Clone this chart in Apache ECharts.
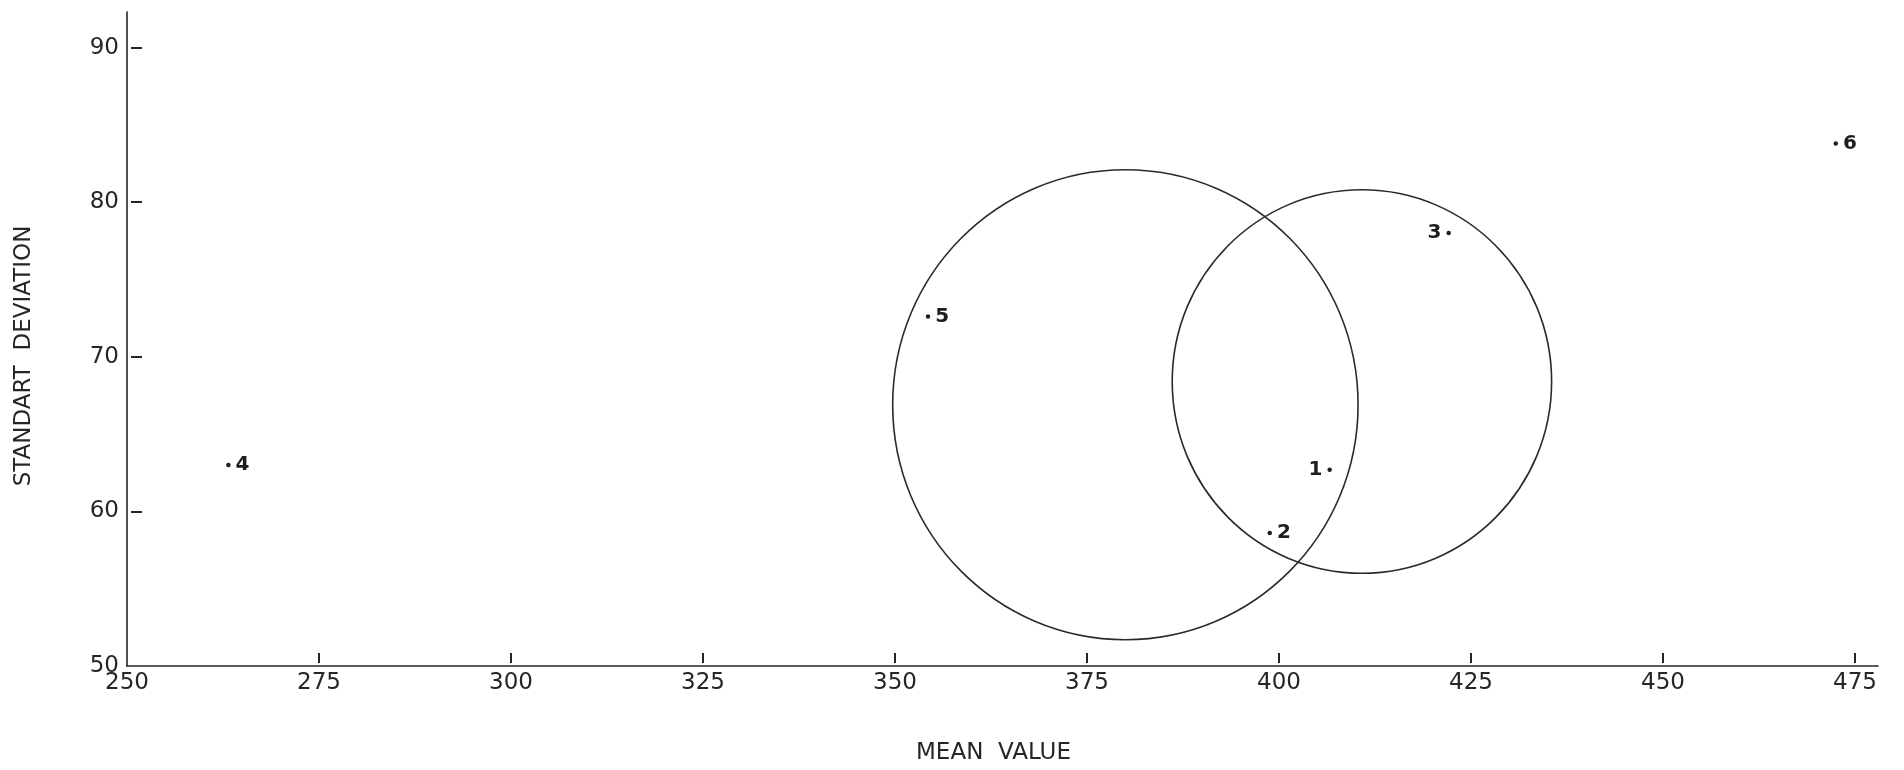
<!DOCTYPE html>
<html>
<head>
<meta charset="utf-8">
<title>Mean value vs standard deviation</title>
<script src="https://cdn.jsdelivr.net/npm/echarts@6/dist/echarts.min.js"></script>
<style>
  html, body { margin: 0; padding: 0; background: #ffffff; }
  #chart { width: 1904px; height: 770px; }
</style>
</head>
<body>
<div id="chart"></div>
<script>
// Numbered samples: mean value and standard deviation
const sampleIds   = ['1', '2', '3', '4', '5', '6'];
const sampleMeans = [406.6, 398.8, 422.1, 263.2, 354.3, 472.5];
const sampleSds   = [62.7, 58.6, 78.0, 63.0, 72.6, 83.8];

// Confidence regions: centre and half-widths in axis units
const regionMeans    = [380.0, 410.8];
const regionSds      = [66.9, 68.4];
const regionHalfMean = [30.3, 24.7];
const regionHalfSd   = [15.2, 12.4];

// Axis ticks
const xTickLabels = [250, 275, 300, 325, 350, 375, 400, 425, 450, 475];
const xTickMarks  = [275, 300, 325, 350, 375, 400, 425, 450, 475];
const yTickLabels = [50, 60, 70, 80, 90];
const yTickMarks  = [60, 70, 80, 90];

const ink = '#262626';
const font = 'DejaVu Sans';
const labelOnLeft = new Set(['1', '3']);

const points = sampleIds.map((id, i) => ({
  value: [sampleMeans[i], sampleSds[i]],
  name: id,
  label: { position: labelOnLeft.has(id) ? 'left' : 'right', distance: 5 }
}));

const regions = regionMeans.map((m, i) => [m, regionSds[i], regionHalfMean[i], regionHalfSd[i]]);

const X_MIN = 250, X_MAX = 478, Y_MIN = 50, Y_MAX = 92.3;

const chart = echarts.init(document.getElementById('chart'), null, { renderer: 'canvas' });

chart.setOption({
  animation: false,
  backgroundColor: '#ffffff',
  grid: { left: 127, right: 26, top: 12, bottom: 101, containLabel: false },
  xAxis: [
    {
      type: 'value', min: X_MIN, max: X_MAX, interval: 25,
      name: 'MEAN  VALUE', nameLocation: 'middle', nameGap: 76,
      nameTextStyle: { fontFamily: font, fontSize: 23, color: ink, padding: [0, 18, 0, 0] },
      axisLine: { show: true, lineStyle: { color: ink, width: 1.6 } },
      axisTick: { show: false },
      splitLine: { show: false },
      axisLabel: {
        customValues: xTickLabels,
        margin: 6,
        fontFamily: font, fontSize: 23, color: ink,
        formatter: v => (xTickLabels.indexOf(v) >= 0 ? String(v) : '')
      }
    },
    {
      // tick marks sit just above the axis line
      type: 'value', min: X_MIN, max: X_MAX, interval: 25,
      position: 'bottom', offset: -3,
      axisLine: { show: false },
      axisLabel: { show: false },
      splitLine: { show: false },
      axisTick: {
        show: true, inside: true, length: 10,
        customValues: xTickMarks,
        lineStyle: { color: ink, width: 2 }
      }
    }
  ],
  yAxis: [
    {
      type: 'value', min: Y_MIN, max: Y_MAX, interval: 10,
      name: 'STANDART  DEVIATION', nameLocation: 'middle', nameRotate: 90, nameGap: 91,
      nameTextStyle: { fontFamily: font, fontSize: 23, color: ink, padding: [0, 34, 0, 0] },
      axisLine: { show: true, lineStyle: { color: ink, width: 1.6 } },
      axisTick: { show: false },
      splitLine: { show: false },
      axisLabel: {
        customValues: yTickLabels,
        margin: 8,
        fontFamily: font, fontSize: 23, color: ink,
        formatter: v => (yTickLabels.indexOf(v) >= 0 ? String(v) : '')
      }
    },
    {
      // dash marks just right of the axis line
      type: 'value', min: Y_MIN, max: Y_MAX, interval: 10,
      position: 'left', offset: -4,
      axisLine: { show: false },
      axisLabel: { show: false },
      splitLine: { show: false },
      axisTick: {
        show: true, inside: true, length: 11,
        customValues: yTickMarks,
        lineStyle: { color: ink, width: 2 }
      }
    }
  ],
  series: [
    {
      type: 'custom',
      name: 'regions',
      xAxisIndex: 0, yAxisIndex: 0,
      silent: true,
      clip: false,
      data: regions,
      renderItem: function (params, api) {
        const c = api.coord([api.value(0), api.value(1)]);
        const s = api.size([api.value(2), api.value(3)]);
        return {
          type: 'ellipse',
          shape: { cx: c[0], cy: c[1], rx: s[0], ry: s[1] },
          style: { fill: 'none', stroke: '#2a2a2a', lineWidth: 1.6 }
        };
      }
    },
    {
      type: 'scatter',
      name: 'samples',
      xAxisIndex: 0, yAxisIndex: 0,
      symbol: 'circle',
      symbolSize: 4.5,
      itemStyle: { color: '#1e1e1e', opacity: 1 },
      label: {
        show: true,
        formatter: p => p.name,
        fontFamily: font, fontSize: 20, fontWeight: 'bold', color: '#1e1e1e'
      },
      data: points
    }
  ]
});
</script>
</body>
</html>
